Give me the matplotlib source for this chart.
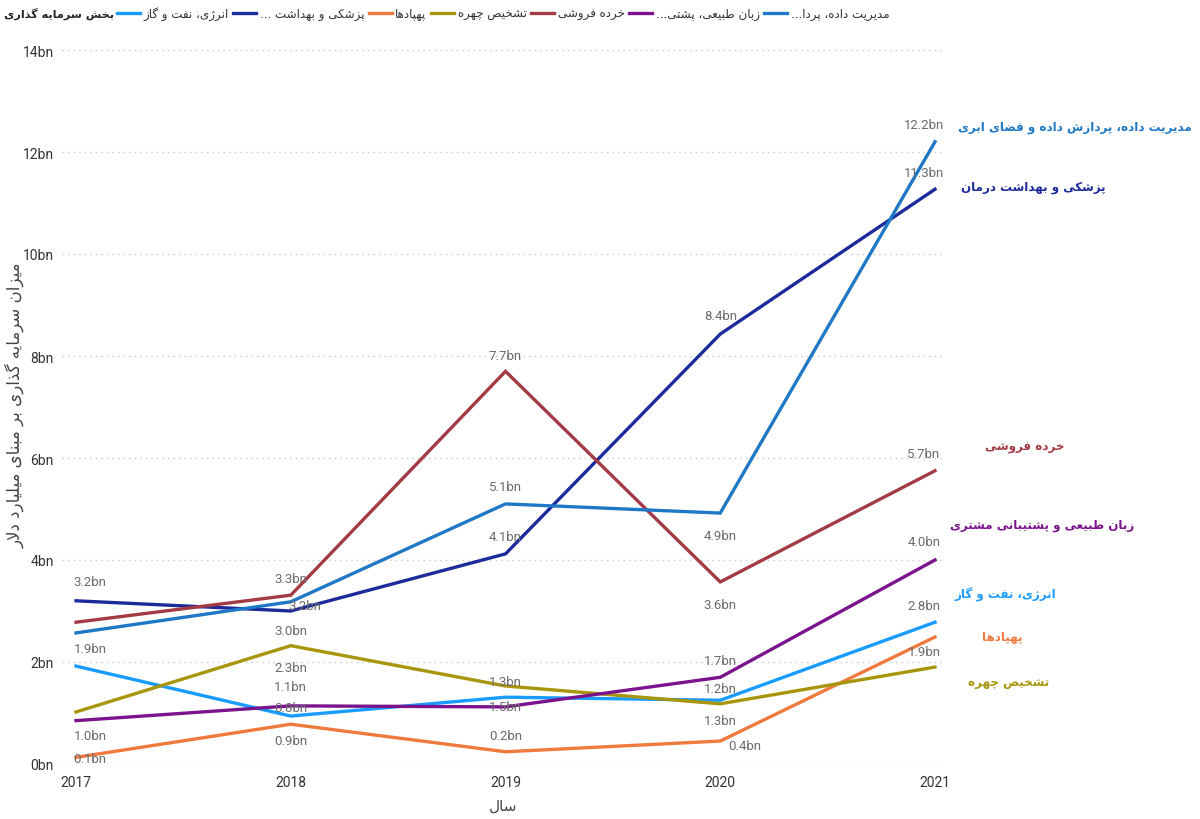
import matplotlib
matplotlib.use("Agg")
import matplotlib.pyplot as plt
from matplotlib.lines import Line2D

# ---- data (billion USD) ----
years = [2017, 2018, 2019, 2020, 2021]

data_mgmt = [2.57, 3.18, 5.10, 4.92, 12.20]
medical = [3.20, 3.00, 4.12, 8.43, 11.27]
retail = [2.78, 3.31, 7.70, 3.57, 5.75]
nlp = [0.85, 1.14, 1.12, 1.70, 4.00]
energy = [1.92, 0.94, 1.31, 1.25, 2.78]
drones = [0.13, 0.78, 0.24, 0.45, 2.49]
face = [1.02, 2.32, 1.53, 1.18, 1.90]

names = {
    "data_mgmt": "مدیریت داده، پردازش داده و فضای ابری",
    "medical": "پزشکی و بهداشت درمان",
    "retail": "خرده فروشی",
    "nlp": "زبان طبیعی و پشتیبانی مشتری",
    "energy": "انرژی، نفت و گاز",
    "drones": "پهپادها",
    "face": "تشخیص چهره",
}
legend_names = {
    "energy": "انرژی، نفت و گاز",
    "medical": "پزشکی و بهداشت ...",
    "drones": "پهپادها",
    "face": "تشخیص چهره",
    "retail": "خرده فروشی",
    "nlp": "زبان طبیعی، پشتی...",
    "data_mgmt": "مدیریت داده، پردا...",
}
legend_order = ["energy", "medical", "drones", "face", "retail", "nlp", "data_mgmt"]
series = {"data_mgmt": data_mgmt, "medical": medical, "retail": retail, "nlp": nlp,
          "energy": energy, "drones": drones, "face": face}
colors = {"data_mgmt": "#1f78c6", "medical": "#1d2a9c", "retail": "#a33b44",
          "nlp": "#7a138c", "energy": "#1a9cff", "drones": "#f07a3e", "face": "#a8950c"}

# data labels as shown in the chart: (series, year, text)
point_labels = [
    ("medical", 2017, "3.2bn"), ("energy", 2017, "1.9bn"), ("nlp", 2017, "1.0bn"), ("drones", 2017, "0.1bn"),
    ("retail", 2018, "3.3bn"), ("medical", 2018, "3.2bn"), ("face", 2018, "3.0bn"), ("face", 2018, "2.3bn"),
    ("nlp", 2018, "1.1bn"), ("energy", 2018, "0.8bn"), ("drones", 2018, "0.9bn"),
    ("retail", 2019, "7.7bn"), ("data_mgmt", 2019, "5.1bn"), ("medical", 2019, "4.1bn"),
    ("face", 2019, "1.3bn"), ("nlp", 2019, "1.5bn"), ("drones", 2019, "0.2bn"),
    ("medical", 2020, "8.4bn"), ("data_mgmt", 2020, "4.9bn"), ("retail", 2020, "3.6bn"),
    ("nlp", 2020, "1.7bn"), ("energy", 2020, "1.2bn"), ("face", 2020, "1.3bn"), ("drones", 2020, "0.4bn"),
    ("data_mgmt", 2021, "12.2bn"), ("medical", 2021, "11.3bn"), ("retail", 2021, "5.7bn"),
    ("nlp", 2021, "4.0bn"), ("energy", 2021, "2.8bn"), ("face", 2021, "1.9bn"),
]
# label offsets in pixels (dx, dy), same order as point_labels
label_offsets = [
    (14, 19), (14, 18), (14, -15), (14, -1),
    (0, 17), (14, 6), (0, 15), (0, -22),
    (0, 19), (0, 9), (0, -16),
    (0, 16), (0, 17), (0, 17),
    (0, 4), (0, 0), (0, 16),
    (0, 19), (0, -22), (0, -23),
    (0, 17), (0, 12), (0, -17), (24, -4),
    (-11, 17), (-11, 17), (-11, 17),
    (-11, 18), (-11, 17), (-11, 16),
]
# right-hand series labels: anchor in figure pixels and alignment
side_label_pos = {"data_mgmt": (1192, 128, 'right'), "medical": (1033, 188, 'center'),
                  "retail": (1025, 448, 'center'), "nlp": (1042, 525, 'center'),
                  "energy": (1005, 595, 'center'), "drones": (1002, 637, 'center'),
                  "face": (1009, 683, 'center')}

yticks = [0, 2, 4, 6, 8, 10, 12, 14]


# ---- minimal Persian shaping (matplotlib has no bidi/shaping) ----
FORMS = {
    'ا': ('\uFE8D', '\uFE8E', None, None), 'آ': ('\uFE81', '\uFE82', None, None),
    'ب': ('\uFE8F', '\uFE90', '\uFE91', '\uFE92'), 'پ': ('\uFB56', '\uFB57', '\uFB58', '\uFB59'),
    'ت': ('\uFE95', '\uFE96', '\uFE97', '\uFE98'), 'ث': ('\uFE99', '\uFE9A', '\uFE9B', '\uFE9C'),
    'ج': ('\uFE9D', '\uFE9E', '\uFE9F', '\uFEA0'), 'چ': ('\uFB7A', '\uFB7B', '\uFB7C', '\uFB7D'),
    'ح': ('\uFEA1', '\uFEA2', '\uFEA3', '\uFEA4'), 'خ': ('\uFEA5', '\uFEA6', '\uFEA7', '\uFEA8'),
    'د': ('\uFEA9', '\uFEAA', None, None), 'ذ': ('\uFEAB', '\uFEAC', None, None),
    'ر': ('\uFEAD', '\uFEAE', None, None), 'ز': ('\uFEAF', '\uFEB0', None, None),
    'ژ': ('\uFB8A', '\uFB8B', None, None),
    'س': ('\uFEB1', '\uFEB2', '\uFEB3', '\uFEB4'), 'ش': ('\uFEB5', '\uFEB6', '\uFEB7', '\uFEB8'),
    'ص': ('\uFEB9', '\uFEBA', '\uFEBB', '\uFEBC'), 'ض': ('\uFEBD', '\uFEBE', '\uFEBF', '\uFEC0'),
    'ط': ('\uFEC1', '\uFEC2', '\uFEC3', '\uFEC4'), 'ظ': ('\uFEC5', '\uFEC6', '\uFEC7', '\uFEC8'),
    'ع': ('\uFEC9', '\uFECA', '\uFECB', '\uFECC'), 'غ': ('\uFECD', '\uFECE', '\uFECF', '\uFED0'),
    'ف': ('\uFED1', '\uFED2', '\uFED3', '\uFED4'), 'ق': ('\uFED5', '\uFED6', '\uFED7', '\uFED8'),
    'ک': ('\uFB8E', '\uFB8F', '\uFB90', '\uFB91'), 'گ': ('\uFB92', '\uFB93', '\uFB94', '\uFB95'),
    'ل': ('\uFEDD', '\uFEDE', '\uFEDF', '\uFEE0'), 'م': ('\uFEE1', '\uFEE2', '\uFEE3', '\uFEE4'),
    'ن': ('\uFEE5', '\uFEE6', '\uFEE7', '\uFEE8'), 'ه': ('\uFEE9', '\uFEEA', '\uFEEB', '\uFEEC'),
    'و': ('\uFEED', '\uFEEE', None, None), 'ی': ('\uFBFC', '\uFBFD', '\uFBFE', '\uFBFF'),
}


def joins_next(c):
    return c in FORMS and FORMS[c][2] is not None


def fa(text):
    out = []
    i, n = 0, len(text)
    while i < n:
        c = text[i]
        if c not in FORMS:
            out.append(c)
            i += 1
            continue
        prev = text[i - 1] if i > 0 else None
        con_prev = prev is not None and joins_next(prev)
        if c == 'ل' and i + 1 < n and text[i + 1] == 'ا':
            out.append('\uFEFC' if con_prev else '\uFEFB')
            i += 2
            continue
        nxt = text[i + 1] if i + 1 < n else None
        con_next = joins_next(c) and nxt in FORMS
        if con_prev and con_next:
            f = FORMS[c][3]
        elif con_prev:
            f = FORMS[c][1]
        elif con_next:
            f = FORMS[c][2]
        else:
            f = FORMS[c][0]
        out.append(f)
        i += 1
    return ''.join(reversed(out))


plt.rcParams['font.family'] = ['DejaVu Sans']

W, H = 1200, 820
fig = plt.figure(figsize=(12, 8.2), dpi=100)
x0, x1 = 62, 945
ax = fig.add_axes([x0 / W, 1 - 765 / H, (x1 - x0) / W, (765 - 51) / H])

for key in legend_order:
    ax.plot(years, series[key], color=colors[key], lw=2.4, solid_joinstyle='miter',
            label=fa(legend_names[key]), clip_on=False)

for (key, yr, txt), (dx, dy) in zip(point_labels, label_offsets):
    val = series[key][years.index(yr)]
    ax.annotate(txt, xy=(yr, val), xytext=(dx, dy), textcoords='offset pixels',
                ha='center', va='center', fontsize=9.5, color='#6b6b6b',
                family='Roboto')

px_per_year = (935 - 76) / 4
ax.set_xlim(2017 - (76 - x0) / px_per_year, 2021 + (x1 - 935) / px_per_year)
ax.set_ylim(0, 14)
ax.set_xticks(years)
ax.set_xticklabels([str(y) for y in years], fontsize=10, color='#333333', family='Roboto')
ax.set_yticks(yticks)
ax.set_yticklabels([f"{t}bn" for t in yticks], fontsize=10, color='#333333', family='Roboto')
ax.tick_params(length=0)
ax.tick_params(axis='y', pad=6)
ax.tick_params(axis='x', pad=8)
ax.grid(axis='y', color='#c8c8c8', linestyle=(0, (1, 3)), lw=1)
for s in ax.spines.values():
    s.set_visible(False)

ax.set_xlabel(fa("سال"), fontsize=11, color='#444444', labelpad=6)
fig.text(15 / W, 1 - 405 / H, fa("میزان سرمایه گذاری بر مبنای میلیارد دلار"),
         rotation=90, ha='center', va='center', fontsize=12, color='#444444')

for key, (px, py, align) in side_label_pos.items():
    fig.text(px / W, 1 - py / H, fa(names[key]), ha=align, va='center',
             fontsize=8.6, fontweight='bold', color=colors[key])

fig.text(4 / W, 1 - 14 / H, fa("بخش سرمایه گذاری"), ha='left', va='center',
         fontsize=8.1, fontweight='bold', color='#252525')
handles, labels = ax.get_legend_handles_labels()
handles = [Line2D([0], [0], color=h.get_color(), lw=2.4) for h in handles]
fig.legend(handles, labels, loc='center left', bbox_to_anchor=(117 / W, 1 - 14 / H),
           ncol=7, frameon=False, fontsize=8.6, handlelength=1.9, handletextpad=0.3,
           columnspacing=0.4, labelcolor='#333333', borderaxespad=0, borderpad=0)

fig.savefig("out.png", dpi=100)
